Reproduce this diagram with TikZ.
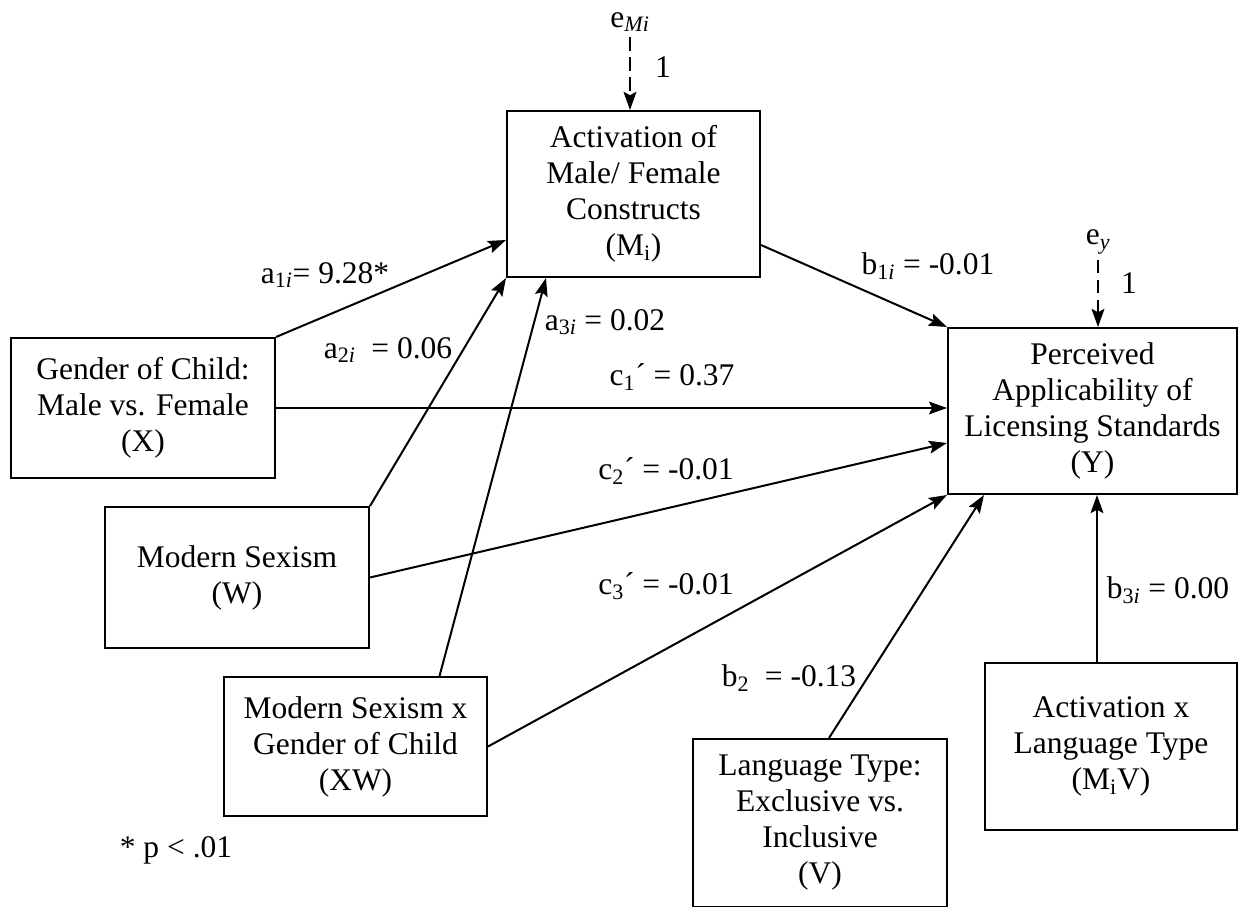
\documentclass[tikz,border=0pt]{standalone}
\usepackage{fontspec}
\setmainfont{Liberation Serif}
\usetikzlibrary{arrows.meta}

\tikzset{
  varbox/.style={draw, line width=0.05cm, inner sep=0pt, align=center,
    font=\fontsize{22.4}{25.6}\selectfont},
  coef/.style={inner sep=1pt, font=\fontsize{22.4}{25.6}\selectfont},
  effect/.style={line width=0.05cm, -{Stealth[length=0.45cm,width=0.32cm,inset=0.08cm]}},
  errpath/.style={effect, dash pattern=on 0.33cm off 0.17cm},
}

\begin{document}
\begin{tikzpicture}[x=0.025cm,y=-0.025cm]
                        \useasboundingbox (0,0) rectangle (1238,907);

                        % Drawing box M (mediator)
                        \node [varbox, minimum width=6.325cm, minimum height=4.15cm] (M) at (633.5,194) {Activation of\\Male/ Female\\Constructs\\(M\textsubscript{i})};%

                        % Drawing box Y (outcome)
                        \node [varbox, minimum width=7.225cm, minimum height=4.15cm] (Y) at (1092.5,411) {Perceived\\Applicability of\\Licensing Standards\\(Y)};%

                        % Drawing boxes X W XW
                        \node [varbox, minimum width=6.6cm, minimum height=3.5cm] (X) at (143,408) {Gender of Child:\\Male vs. Female\\(X)};%
                        \node [varbox, minimum width=6.6cm, minimum height=3.525cm] (W) at (237,577.5) {Modern Sexism\\(W)};%
                        \node [varbox, minimum width=6.575cm, minimum height=3.475cm] (XW) at (355.5,746.5) {Modern Sexism x\\Gender of Child\\(XW)};%

                        % Drawing boxes V MV
                        \node [varbox, minimum width=6.35cm, minimum height=4.2cm] (V) at (820,823) {Language Type:\\Exclusive vs.\\Inclusive\\(V)};%
                        \node [varbox, minimum width=6.3cm, minimum height=4.175cm] (MV) at (1111,746.5) {Activation x\\Language Type\\(M\textsubscript{i}V)};%

                        % Drawing error terms
                        \node [coef] (eM) at (630,22) {e\textsubscript{\textit{Mi}}};%
                        \draw [errpath] ([yshift=-0.1cm]eM.south) -- (eM.south |- M.north);%
                        \node [coef] (oneM) at (663,67) {1};%
                        \node [coef] (eY) at (1098,242) {e\textsubscript{\textit{y}}};%
                        \draw [errpath] ([yshift=-0.1cm]eY.south) -- (eY.south |- Y.north);%
                        \node [coef] (oneY) at (1129,283) {1};%

                        % Drawing paths to M
                        \draw [effect] (X.north east) -- ([yshift=-1.15cm]M.west);%
                        \draw [effect] (W.north east) -- (M.south west);%
                        \draw [effect] ([xshift=2.1cm]XW.north) -- ([xshift=1cm]M.south west);%

                        % Drawing paths to Y
                        \draw [effect] ([yshift=-1.275cm]M.east) -- (Y.north west);%
                        \draw [effect] (X.east) -- (X.east -| Y.west);%
                        \draw [effect] (W.east) -- ([yshift=-0.8cm]Y.west);%
                        \draw [effect] (XW.east) -- (Y.south west);%
                        \draw [effect] ([xshift=0.225cm]V.north) -- ([xshift=0.925cm]Y.south west);%
                        \draw [effect] ([xshift=-0.35cm]MV.north) -- ([xshift=-0.35cm]MV.north |- Y.south);%

                        % Marking coefficients
                        \node [coef] (a1) at (325,275) {a\textsubscript{1\textit{i}}= 9.28*};%
                        \node [coef] (a2) at (388,350) {a\textsubscript{2\textit{i}}\ \ = 0.06};%
                        \node [coef] (a3) at (605,322) {a\textsubscript{3\textit{i}} = 0.02};%
                        \node [coef] (b1) at (928,266) {b\textsubscript{1\textit{i}} = -0.01};%
                        \node [coef] (c1) at (672,377) {c\textsubscript{1}´ = 0.37};%
                        \node [coef] (c2) at (666,471) {c\textsubscript{2}´ = -0.01};%
                        \node [coef] (c3) at (666,586) {c\textsubscript{3}´ = -0.01};%
                        \node [coef] (b2) at (789,678) {b\textsubscript{2}\ \ = -0.13};%
                        \node [coef] (b3) at (1168,590) {b\textsubscript{3\textit{i}} = 0.00};%

                        % Marking note
                        \node [coef] (note) at (176,850) {* p < .01};%
\end{tikzpicture}
\end{document}
